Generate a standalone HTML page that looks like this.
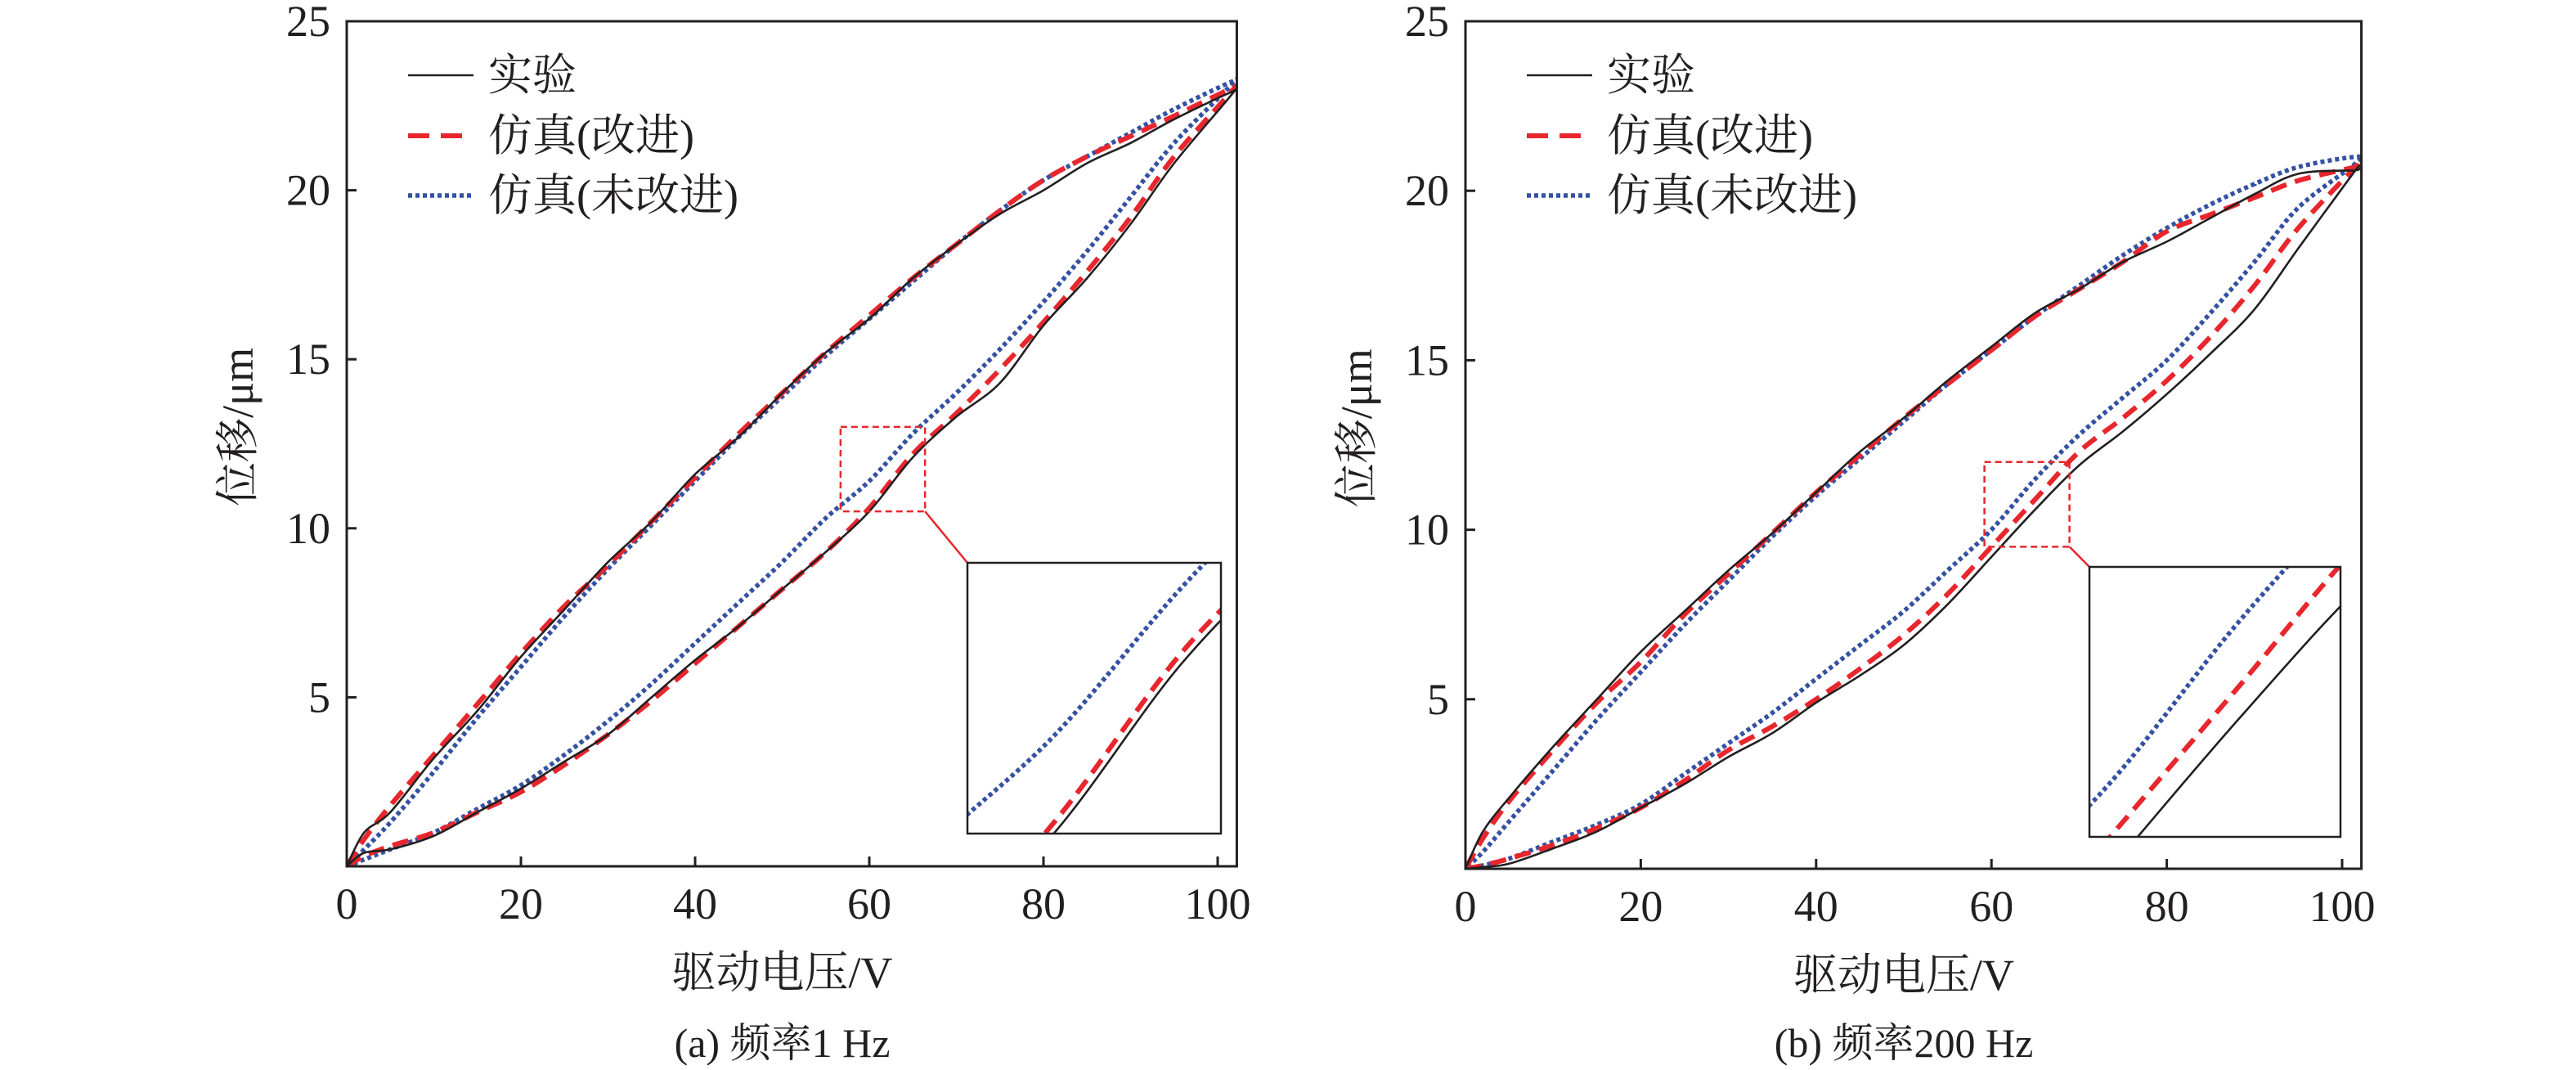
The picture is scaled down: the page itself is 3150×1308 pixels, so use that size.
<!DOCTYPE html>
<html><head><meta charset="utf-8"><style>
html,body{margin:0;padding:0;background:#fff;overflow:hidden;width:3150px;height:1308px;}
svg{display:block;}
svg text{font-family:"Liberation Serif","Noto Serif CJK SC",serif;fill:#231f20;}
</style></head><body>
<svg id="chart" width="3150" height="1308" viewBox="0 0 3150 1308" xmlns="http://www.w3.org/2000/svg"></svg>
<script>
const volts = [0,2,5,10,15,20,25,30,35,40,45,50,55,60,65,70,75,80,85,90,95,101.5];
const xTicks = [0,20,40,60,80,100];
const yTicks = [5,10,15,20,25];
// 1 Hz
const expLowA  = [0,0.4,0.5,0.9,1.6,2.3,3.1,3.9,5.0,6.1,7.1,8.2,9.3,10.5,12.1,13.3,14.3,16.0,17.4,19.0,20.8,22.8];
const expUpA   = [0,1.0,1.6,3.2,4.6,6.2,7.6,9.0,10.2,11.6,12.7,14.0,15.2,16.2,17.4,18.4,19.3,20.0,20.8,21.4,22.1,22.9];
const redLowA  = [0,0.3,0.6,1.0,1.6,2.2,3.0,3.9,4.9,6.0,7.1,8.2,9.3,10.6,12.2,13.4,14.7,16.1,17.6,19.2,21.0,22.9];
const redUpA   = [0,0.8,1.8,3.3,4.8,6.3,7.7,8.9,10.2,11.5,12.8,14.0,15.2,16.3,17.4,18.4,19.4,20.3,21.0,21.6,22.2,23.0];
const blueLowA = [0,0.2,0.5,1.0,1.7,2.4,3.3,4.3,5.4,6.6,7.8,9.0,10.3,11.4,12.8,14.0,15.3,16.7,18.2,19.8,21.4,23.1];
const blueUpA  = [0,0.5,1.3,2.8,4.4,5.9,7.4,8.8,10.1,11.4,12.7,13.9,15.1,16.2,17.3,18.4,19.4,20.3,21.0,21.7,22.4,23.2];
// 200 Hz
const expLowB  = [0,0.05,0.15,0.6,1.1,1.8,2.5,3.3,4.0,4.9,5.7,6.6,7.8,9.2,10.6,11.9,12.9,14.0,15.2,16.5,18.3,20.6];
const expUpB   = [0,1.1,2.1,3.6,5.0,6.4,7.6,8.8,9.9,11.1,12.3,13.3,14.4,15.4,16.4,17.1,17.9,18.5,19.2,19.9,20.5,20.6];
const redLowB  = [0,0.1,0.3,0.7,1.2,1.8,2.6,3.5,4.2,5.0,5.9,6.9,8.1,9.5,10.9,12.3,13.3,14.4,15.7,17.2,18.9,20.7];
const redUpB   = [0,0.9,2.0,3.5,4.9,6.1,7.5,8.7,9.9,11.1,12.2,13.3,14.3,15.3,16.3,17.1,17.9,18.8,19.3,19.8,20.3,20.7];
const blueLowB = [0,0.1,0.3,0.8,1.3,1.9,2.8,3.7,4.6,5.6,6.6,7.6,8.8,10.0,11.5,12.8,13.9,15.0,16.4,17.9,19.5,20.8];
const blueUpB  = [0,0.5,1.4,2.9,4.4,5.8,7.2,8.5,9.8,11.0,12.1,13.2,14.3,15.3,16.3,17.2,18.1,18.9,19.6,20.2,20.7,21.0];
const legendLabels = ["实验","仿真(改进)","仿真(未改进)"];

const NS="http://www.w3.org/2000/svg";
const svg=document.getElementById('chart');
function mk(tag,attrs,parent){const e=document.createElementNS(NS,tag);for(const k in attrs)e.setAttribute(k,attrs[k]);(parent||svg).appendChild(e);return e;}
function smooth(pts){
  let d="M"+pts[0][0].toFixed(1)+","+pts[0][1].toFixed(1);
  for(let i=0;i<pts.length-1;i++){
    const p0=pts[Math.max(0,i-1)],p1=pts[i],p2=pts[i+1],p3=pts[Math.min(pts.length-1,i+2)];
    const c1=[p1[0]+(p2[0]-p0[0])/6,p1[1]+(p2[1]-p0[1])/6];
    const c2=[p2[0]-(p3[0]-p1[0])/6,p2[1]-(p3[1]-p1[1])/6];
    d+=" C"+c1[0].toFixed(1)+","+c1[1].toFixed(1)+" "+c2[0].toFixed(1)+","+c2[1].toFixed(1)+" "+p2[0].toFixed(1)+","+p2[1].toFixed(1);
  }
  return d;
}
const styles={
  exp:{stroke:"#231f20","stroke-width":2.6,fill:"none"},
  red:{stroke:"#e8262d","stroke-width":6,fill:"none","stroke-dasharray":"20 11"},
  blue:{stroke:"#3451a3","stroke-width":5.5,fill:"none","stroke-dasharray":"5 4"}
};
function drawSeries(g,sx,sy,low,up,st,name){
  const pts=[];
  for(let i=0;i<volts.length;i++)pts.push([sx(volts[i]),sy(low[i])]);
  for(let i=volts.length-1;i>=0;i--)pts.push([sx(volts[i]),sy(up[i])]);
  const p=mk('path',Object.assign({d:smooth(pts)},st),g);
  
  
}
function chart(cfg){
  const {id,x0,x100,yTop,yBot,series,zoom,inset,caption}=cfg;
  const g=mk('g',{});
  
  
  const sx=v=>x0+(x100-x0)*v/100;
  const sy=v=>yBot-(yBot-yTop)*v/25;
  const right=sx(102.2);
  const cp=mk('clipPath',{id:id+'-clip'},g);
  mk('rect',{x:x0,y:yTop,width:right-x0,height:yBot-yTop},cp);
  const plot=mk('g',{'clip-path':'url(#'+id+'-clip)'},g);
  const names=["experiment-loop","improved-sim-loop","unimproved-sim-loop"];
  const keys=["exp","red","blue"];
  [2,1,0].forEach(i=>drawSeries(plot,sx,sy,series[i][0],series[i][1],styles[keys[i]],names[i]));
  const fr=mk('rect',{x:x0,y:yTop,width:right-x0,height:yBot-yTop,fill:"none",stroke:"#231f20","stroke-width":3},g);
  
  
  xTicks.forEach(t=>{
    if(t>0)mk('line',{x1:sx(t),x2:sx(t),y1:yBot,y2:yBot-12,stroke:"#231f20","stroke-width":3},g);
    const tx=mk('text',{x:sx(t),y:yBot+64,"font-size":54,"text-anchor":"middle"},g);
    tx.textContent=t;
    
    
  });
  yTicks.forEach(t=>{
    mk('line',{x1:x0,x2:x0+12,y1:sy(t),y2:sy(t),stroke:"#231f20","stroke-width":3},g);
    const ty=mk('text',{x:x0-20,y:sy(t)+18,"font-size":54,"text-anchor":"end"},g);
    ty.textContent=t;
    
    
  });
  const xt=mk('text',{x:sx(50),y:yBot+148,"font-size":54,"text-anchor":"middle"},g);
  xt.textContent="驱动电压/V";
  
  
  const yt=mk('text',{x:0,y:0,"font-size":54,"text-anchor":"middle",transform:"translate("+(x0-115)+","+sy(13)+") rotate(-90)"},g);
  yt.textContent="位移/μm";
  
  
  const cap=mk('text',{x:sx(50),y:1292,"font-size":50,"text-anchor":"middle"},g);
  cap.textContent=caption;
  
  
  const lx=x0+75, ly=[92,166,239];
  keys.forEach((k,i)=>{
    const lg=mk('g',{},g);
    
    
    mk('line',Object.assign({x1:lx,x2:lx+80,y1:ly[i],y2:ly[i]},styles[k],k==='red'?{"stroke-dasharray":"26 14"}:{}),lg);
    const t=mk('text',{x:lx+98,y:ly[i]+18,"font-size":54},lg);
    t.textContent=legendLabels[i];
  });
  const zx1=sx(zoom[0]),zx2=sx(zoom[1]),zy1=sy(zoom[3]),zy2=sy(zoom[2]);
  const zr=mk('rect',{x:zx1,y:zy1,width:zx2-zx1,height:zy2-zy1,fill:"none",stroke:"#e8262d","stroke-width":2.5,"stroke-dasharray":"8 5"},g);
  
  
  mk('line',{x1:zx2,y1:zy2,x2:inset[0],y2:inset[1],stroke:"#e8262d","stroke-width":2.5},g);
  const ig=mk('g',{},g);
  
  
  const icp=mk('clipPath',{id:id+'-iclip'},g);
  mk('rect',{x:inset[0],y:inset[1],width:inset[2]-inset[0],height:inset[3]-inset[1]},icp);
  mk('rect',{x:inset[0],y:inset[1],width:inset[2]-inset[0],height:inset[3]-inset[1],fill:"#fff"},ig);
  const ip=mk('g',{'clip-path':'url(#'+id+'-iclip)'},ig);
  const isx=v=>inset[0]+(inset[2]-inset[0])*(v-zoom[0])/(zoom[1]-zoom[0]);
  const isy=v=>inset[3]-(inset[3]-inset[1])*(v-zoom[2])/(zoom[3]-zoom[2]);
  [2,1,0].forEach(i=>drawSeries(ip,isx,isy,series[i][0],series[i][1],styles[keys[i]],'inset-'+names[i]));
  mk('rect',{x:inset[0],y:inset[1],width:inset[2]-inset[0],height:inset[3]-inset[1],fill:"none",stroke:"#231f20","stroke-width":2.5},ig);
}
chart({id:"chart-1hz",x0:424,x100:1489,yTop:26,yBot:1059,
  series:[[expLowA,expUpA],[redLowA,redUpA],[blueLowA,blueUpA]],
  zoom:[56.7,66.4,10.5,13.0],inset:[1183,688,1493,1019],caption:"(a) 频率1 Hz"});
chart({id:"chart-200hz",x0:1792,x100:2864,yTop:26,yBot:1062,
  series:[[expLowB,expUpB],[redLowB,redUpB],[blueLowB,blueUpB]],
  zoom:[59.2,68.9,9.5,12.0],inset:[2555,693,2862,1023],caption:"(b) 频率200 Hz"});
</script>
</body></html>
